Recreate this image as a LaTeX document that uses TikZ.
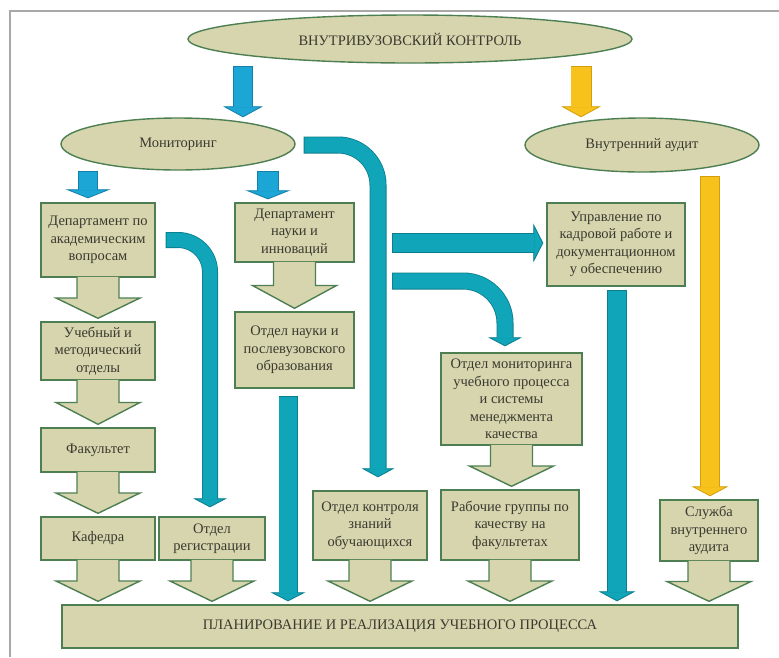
\documentclass[tikz,border=0pt]{standalone}
\usepackage{fontspec}
\setmainfont{Liberation Serif}
\usetikzlibrary{arrows.meta,calc,shapes.geometric}
\definecolor{boxfill}{HTML}{D7D5AE}
\definecolor{boxline}{HTML}{4E7F52}
\definecolor{txt}{HTML}{3A3A30}
\definecolor{tealf}{HTML}{10A5B8}
\definecolor{teald}{HTML}{0B7D8C}
\definecolor{skyf}{HTML}{1BA6D6}
\definecolor{skyd}{HTML}{147FA8}
\definecolor{yelf}{HTML}{F7C21B}
\definecolor{yeld}{HTML}{D29E0C}
\definecolor{framec}{HTML}{A8A8A8}
\tikzset{
  box/.style={draw=boxline, line width=1.4pt, fill=boxfill, text=txt, align=center, inner sep=2pt},
  oval/.style={ellipse, draw=boxline, line width=1.4pt, fill=boxfill, text=txt, inner sep=0pt},
}
% beige block arrow from a box down to the box below
\newcommand{\blockarrow}[2]{%
  \path[fill=boxfill] let \p1=(#1.south), \p4=([yshift=3pt]#2.north), \p3=($(\p1)!.5!(\p4)$) in
    (\x1-21pt,\y1+0.8pt) -- (\x1-21pt,\y3) -- (\x1-42pt,\y3) -- (\x1,\y4) -- (\x1+42pt,\y3) -- (\x1+21pt,\y3) -- (\x1+21pt,\y1+0.8pt) -- cycle;
  \draw[draw=boxline, line width=1.4pt] let \p1=(#1.south), \p4=([yshift=3pt]#2.north), \p3=($(\p1)!.5!(\p4)$) in
    (\x1-21pt,\y1+0.7pt) -- (\x1-21pt,\y3) -- (\x1-42pt,\y3) -- (\x1,\y4) -- (\x1+42pt,\y3) -- (\x1+21pt,\y3) -- (\x1+21pt,\y1+0.7pt);
}
% thick coloured arrow with a darker outline: fill, dark, shaft width, head width, head length, path
\newcommand{\fatarrow}[6]{%
  \draw[draw=#2, line width=#3, -{Triangle[width=#4,length=#5,line width=0.8pt,fill=#1,color=#2]}] #6;
  \draw[draw=#1, line width=#3-1.6pt, shorten >=#5-1pt, shorten <=0.8pt] #6;
}
\begin{document}
\begin{tikzpicture}[x=1pt,y=-1pt, font=\fontsize{14.5}{17.5}\selectfont]
\useasboundingbox (0,0) rectangle (779,657);
\draw[framec, line width=1.5pt] (10,657) -- (10,11) -- (779,11);

% ellipses
\node[oval, minimum width=444pt, minimum height=48pt] (vk) at (410,39) {ВНУТРИВУЗОВСКИЙ КОНТРОЛЬ};
\node[oval, minimum width=234pt, minimum height=52pt] (mon) at (178,144) {Мониторинг};
\node[oval, minimum width=234pt, minimum height=54pt] (aud) at (642,145) {Внутренний аудит};

% boxes
\node[box, minimum width=114pt, minimum height=74pt] (dAcad) at (98,240) {Департамент по\\академическим\\вопросам};
\node[box, minimum width=114pt, minimum height=58pt] (uchMet) at (98,351) {Учебный и\\методический\\отделы};
\node[box, minimum width=114pt, minimum height=44pt] (fak) at (98,450) {Факультет};
\node[box, minimum width=114pt, minimum height=43pt] (kaf) at (98,538.5) {Кафедра};
\node[box, minimum width=106pt, minimum height=43pt] (reg) at (212,538.5) {Отдел\\регистрации};
\node[box, minimum width=119pt, minimum height=59pt] (dNauki) at (294.5,232.5) {Департамент\\науки и\\инноваций};
\node[box, minimum width=119pt, minimum height=76pt] (oNauki) at (294.5,350) {Отдел науки и\\послевузовского\\образования};
\node[box, minimum width=114pt, minimum height=69pt] (kontr) at (370,525.5) {Отдел контроля\\знаний\\обучающихся};
\node[box, minimum width=138pt, minimum height=83pt] (upr) at (616,244.5) {Управление по\\кадровой работе и\\документационном\\у обеспечению};
\node[box, minimum width=141pt, minimum height=92pt] (monit) at (511.5,399) {Отдел мониторинга\\учебного процесса\\и системы\\менеджмента\\качества};
\node[box, minimum width=138pt, minimum height=70pt] (rab) at (510,525) {Рабочие группы по\\качеству на\\факультетах};
\node[box, minimum width=98pt, minimum height=61pt] (sluzh) at (709,530.5) {Служба\\внутреннего\\аудита};
\node[box, minimum width=676pt, minimum height=43pt] (plan) at (400,626.5) {ПЛАНИРОВАНИЕ И РЕАЛИЗАЦИЯ УЧЕБНОГО ПРОЦЕССА};

% beige block arrows
\blockarrow{dAcad}{uchMet}
\blockarrow{uchMet}{fak}
\blockarrow{fak}{kaf}
\blockarrow{kaf}{plan}
\blockarrow{reg}{plan}
\blockarrow{dNauki}{oNauki}
\blockarrow{kontr}{plan}
\blockarrow{monit}{rab}
\blockarrow{rab}{plan}
\blockarrow{sluzh}{plan}

% branch points beside the large curved arrow
\coordinate (br1) at (392,243);
\coordinate (br2) at (392,281);

% thick coloured arrows
\fatarrow{skyf}{skyd}{20pt}{40pt}{11pt}{([xshift=-167pt,yshift=-2pt]vk.south) -- ([xshift=65pt]mon.north)}
\fatarrow{yelf}{yeld}{21pt}{40pt}{11pt}{([xshift=171pt,yshift=-2pt]vk.south) -- ([xshift=-61pt]aud.north)}
\fatarrow{skyf}{skyd}{20pt}{45pt}{9pt}{([xshift=-90pt]mon.south) -- ([xshift=-10pt,yshift=4pt]dAcad.north)}
\fatarrow{skyf}{skyd}{22pt}{45pt}{9pt}{([xshift=90pt]mon.south) -- ([xshift=-26.5pt,yshift=3pt]dNauki.north)}
\fatarrow{tealf}{teald}{17pt}{33pt}{9pt}{[rounded corners=40pt] ([xshift=8pt,yshift=-1pt]mon.east) -| ([xshift=8pt,yshift=13pt]kontr.north)}
\fatarrow{tealf}{teald}{16pt}{34pt}{9pt}{[rounded corners=32pt] ([xshift=10pt]dAcad.east) -| ([xshift=-2pt,yshift=9pt]reg.north)}
\fatarrow{tealf}{teald}{19pt}{35pt}{9pt}{([xshift=-6.5pt,yshift=-7pt]oNauki.south) -- ([xshift=-112pt,yshift=3pt]plan.north)}
\fatarrow{tealf}{teald}{20pt}{39pt}{10pt}{(br1) -- ([xshift=-3pt,yshift=1.5pt]upr.west)}
\fatarrow{tealf}{teald}{17pt}{34pt}{9pt}{[rounded corners=42pt] (br2) -| ([xshift=-6.5pt,yshift=6pt]monit.north)}
\fatarrow{tealf}{teald}{20pt}{37pt}{10pt}{([xshift=1pt,yshift=-3pt]upr.south) -- ([xshift=217pt,yshift=3pt]plan.north)}
\fatarrow{yelf}{yeld}{20pt}{37pt}{10pt}{([xshift=68pt,yshift=-3pt]aud.south) -- ([xshift=1pt,yshift=3pt]sluzh.north)}
\end{tikzpicture}
\end{document}
